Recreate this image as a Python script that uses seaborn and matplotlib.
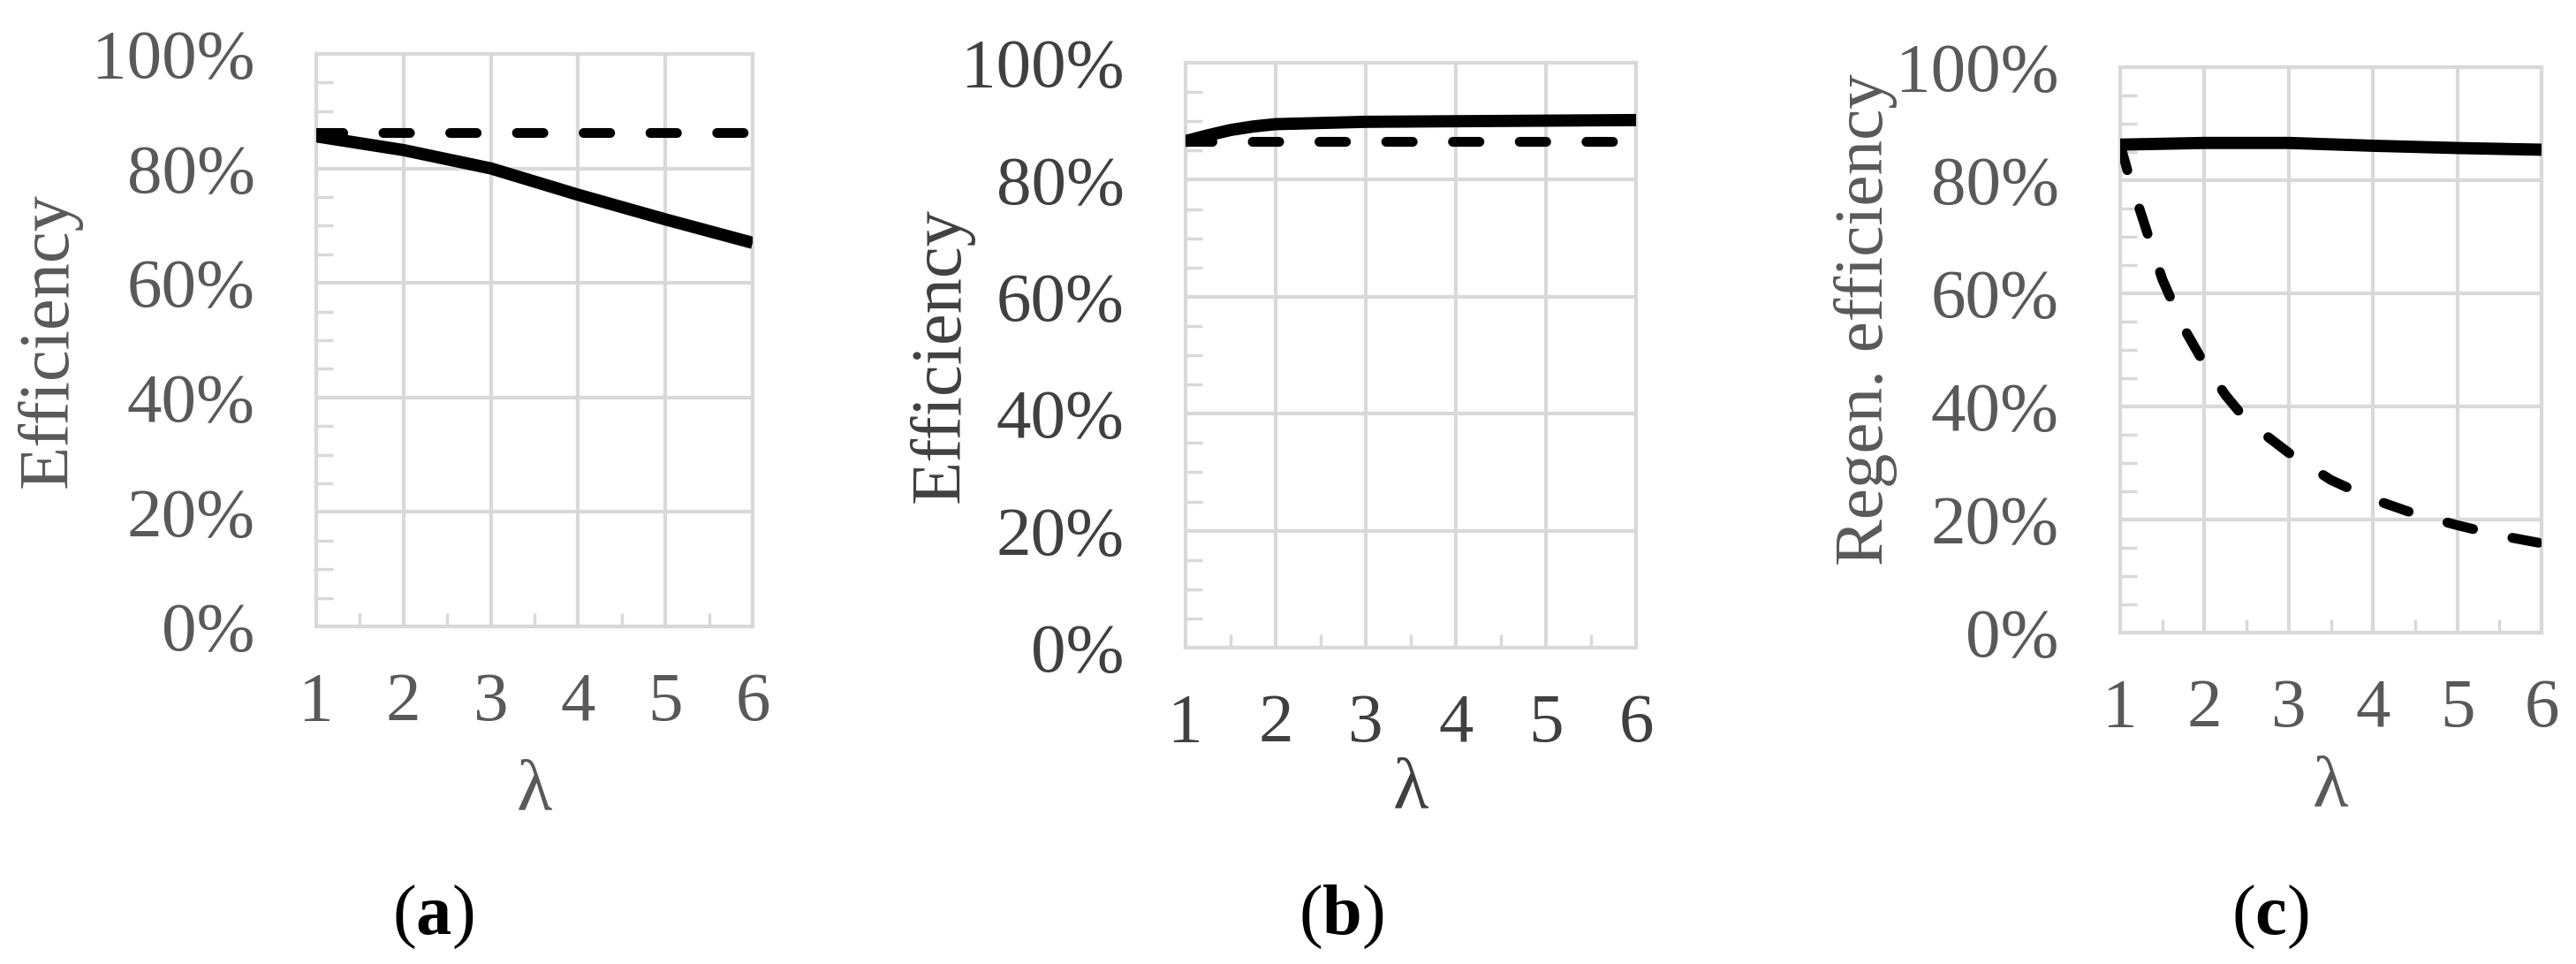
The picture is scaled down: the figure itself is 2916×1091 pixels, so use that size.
import matplotlib
matplotlib.use("Agg")
import matplotlib.pyplot as plt
import numpy as np
import pandas as pd
import seaborn as sns
from matplotlib.ticker import PercentFormatter, MultipleLocator, FixedLocator

# ---------------- data ----------------
lam_ticks = [1, 2, 3, 4, 5, 6]
pct_ticks = [0.0, 0.2, 0.4, 0.6, 0.8, 1.0]

a_lam = [1, 2, 3, 4, 5, 6]
a_solid = [0.856, 0.832, 0.800, 0.754, 0.711, 0.670]
a_dashed = [0.863, 0.863, 0.863, 0.863, 0.863, 0.863]

b_lam = [1, 1.25, 1.5, 1.75, 2, 3, 4, 5, 6]
b_solid = [0.866, 0.876, 0.885, 0.891, 0.895, 0.899, 0.900, 0.901, 0.902]
b_dashed_lam = [1, 2, 3, 4, 5, 6]
b_dashed = [0.866, 0.866, 0.866, 0.866, 0.866, 0.866]

c_solid_lam = [1, 2, 3, 4, 5, 6]
c_solid = [0.863, 0.866, 0.866, 0.861, 0.857, 0.854]
c_dashed_lam = [1, 1.1, 1.25, 1.5, 1.75, 2, 2.25, 2.5, 3, 3.5, 4, 4.5, 5, 5.5, 6]
c_dashed = [0.863, 0.81, 0.74, 0.625, 0.54, 0.475, 0.42, 0.375, 0.318, 0.27,
            0.236, 0.21, 0.19, 0.172, 0.158]

ylabels = ["Efficiency", "Efficiency", "Regen. efficiency"]
captions = ["a", "b", "c"]

# ---------------- style ----------------
sns.set_theme(style="white")
plt.rcParams["font.family"] = ["Liberation Serif", "DejaVu Serif"]
plt.rcParams["mathtext.fontset"] = "custom"
plt.rcParams["mathtext.rm"] = "Liberation Serif"
plt.rcParams["mathtext.bf"] = "Liberation Serif:bold"

W, H = 2916, 1091
fig = plt.figure(figsize=(W / 100, H / 100), dpi=100)

# axes boxes in pixels: left, top, right, bottom
boxes = [(358, 61, 852, 709), (1342, 71, 1852, 733), (2400, 76, 2877, 716)]
tick_colors = ["#595959", "#404040", "#595959"]
ylab_x = [56, 1066, 2112]
ylab_y = [385, 402, 362]
ylab_size = [58, 58, 57]
lam_y = [897, 895, 893]
cap_x = [490, 1518, 2570]

grid_c = "#d9d9d9"

series = [
    [(a_lam, a_solid, "-"), (a_lam, a_dashed, "--")],
    [(b_lam, b_solid, "-"), (b_dashed_lam, b_dashed, "--")],
    [(c_solid_lam, c_solid, "-"), (c_dashed_lam, c_dashed, "--")],
]

for i, (l, t, r, b) in enumerate(boxes):
    ax = fig.add_axes([l / W, 1 - b / H, (r - l) / W, (b - t) / H])
    for xs, ys, ls in series[i]:
        df = pd.DataFrame({"lam": xs, "eff": ys})
        if ls == "-":
            sns.lineplot(data=df, x="lam", y="eff", ax=ax, color="black",
                         linewidth=10, solid_capstyle="butt", zorder=3)
        else:
            sns.lineplot(data=df, x="lam", y="eff", ax=ax, color="black",
                         linewidth=8, linestyle=(0, (2.7, 4.1)),
                         dash_capstyle="round", zorder=4)
    ax.set_xlim(1, 6)
    ax.set_ylim(0, 1)
    ax.xaxis.set_major_locator(FixedLocator(lam_ticks))
    ax.yaxis.set_major_locator(FixedLocator(pct_ticks))
    ax.xaxis.set_minor_locator(MultipleLocator(0.5))
    ax.yaxis.set_minor_locator(MultipleLocator(0.05))
    ax.yaxis.set_major_formatter(PercentFormatter(1.0, decimals=0))
    ax.grid(True, which="major", color=grid_c, linewidth=3)
    ax.set_axisbelow(True)
    for s in ax.spines.values():
        s.set_color(grid_c)
        s.set_linewidth(3)
        s.set_visible(True)
    ax.tick_params(axis="both", which="major", length=0, labelsize=57,
                   labelcolor=tick_colors[i])
    ax.tick_params(axis="x", which="major", pad=37)
    ax.tick_params(axis="y", which="major", pad=50)
    ax.tick_params(axis="x", which="minor", direction="in", length=11,
                   width=2.5, color=grid_c, bottom=True, top=False)
    ax.tick_params(axis="y", which="minor", direction="in", length=14,
                   width=2.5, color=grid_c, left=True, right=False)
    ax.set_xlabel("")
    ax.set_ylabel("")
    # axis labels
    fig.text(ylab_x[i] / W, 1 - ylab_y[i] / H, ylabels[i], rotation=90,
             ha="center", va="center", fontsize=ylab_size[i],
             color=tick_colors[i])
    fig.text(((l + r) / 2) / W, 1 - lam_y[i] / H, "λ", ha="center",
             va="center", fontsize=60, color=tick_colors[i])
    fig.text(cap_x[i] / W, 1 - 1038 / H, r"($\mathbf{%s}$)" % captions[i],
             ha="center", va="center", fontsize=58, color="black")

fig.savefig("out.png", dpi=100, facecolor="white")
